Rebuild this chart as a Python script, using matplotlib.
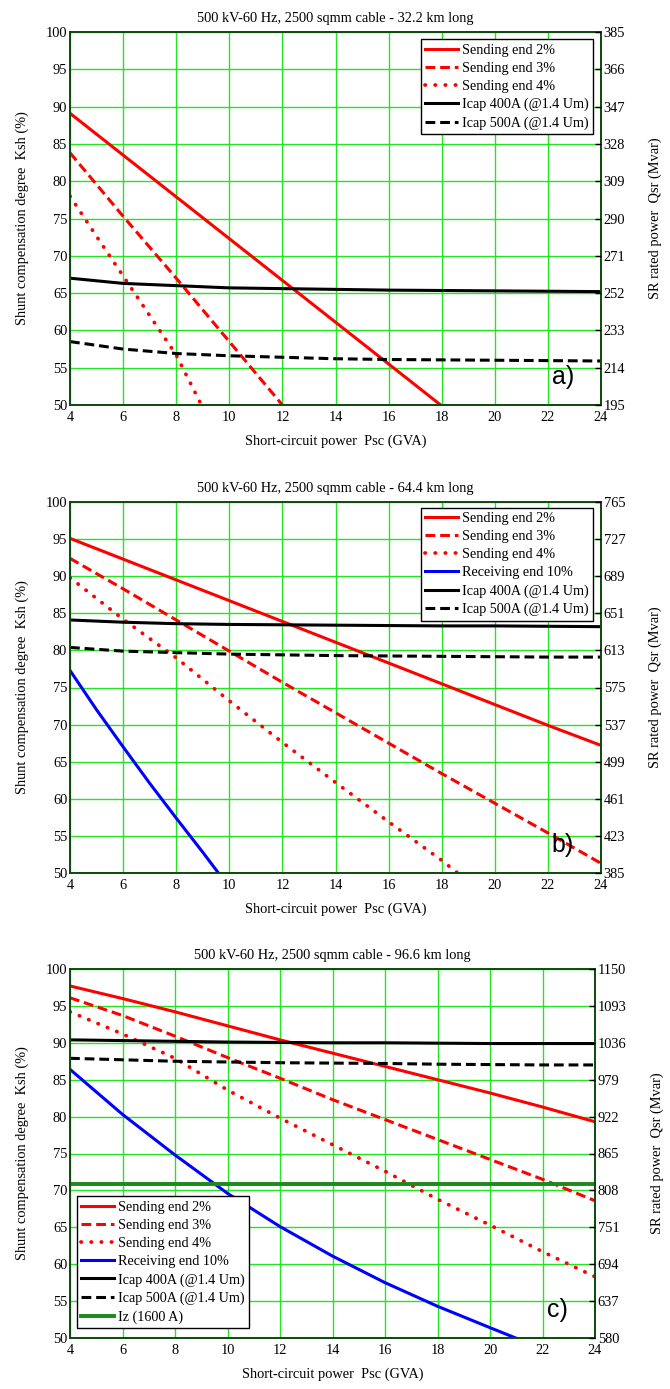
import numpy as np
import matplotlib
matplotlib.use("Agg")
import matplotlib.pyplot as plt

plt.rcParams['font.family'] = ['Liberation Serif', 'DejaVu Serif']
plt.rcParams['font.size'] = 10

# ---- data ----
x_even = [4, 6, 8, 10, 12, 14, 16, 18, 20, 22, 24]

# a) 32.2 km
a_s2_x = [4, 6, 8, 10, 12, 14, 16, 17.96]
a_s2 = [89.1, 83.5, 77.9, 72.3, 66.7, 61.1, 55.5, 50.0]
a_s3_x = [4, 6, 8, 10, 12]
a_s3 = [83.8, 75.3, 67.0, 58.5, 50.0]
a_s4_x = [4, 5, 6, 7, 8, 8.95]
a_s4 = [78.0, 72.6, 67.3, 62.0, 56.7, 50.0]
a_i400 = [67.0, 66.3, 66.0, 65.7, 65.6, 65.5, 65.4, 65.35, 65.3, 65.25, 65.2]
a_i500 = [58.5, 57.5, 56.9, 56.6, 56.4, 56.2, 56.1, 56.05, 56.0, 55.95, 55.9]

# b) 64.4 km
b_s2 = [95.1, 92.3, 89.5, 86.7, 83.9, 81.1, 78.3, 75.5, 72.7, 69.9, 67.2]
b_s3 = [92.4, 88.3, 84.1, 79.9, 75.7, 71.6, 67.5, 63.4, 59.4, 55.4, 51.3]
b_s4_x = [4, 6, 8, 10, 12, 14, 16, 18, 18.6]
b_s4 = [89.8, 84.2, 79.0, 73.2, 67.6, 62.2, 56.9, 51.7, 50.0]
b_r10_x = [4, 5, 6, 7, 8, 9, 9.59]
b_r10 = [77.3, 72.0, 67.0, 62.1, 57.4, 52.8, 50.0]
b_i400 = [84.1, 83.8, 83.6, 83.5, 83.45, 83.4, 83.35, 83.3, 83.3, 83.25, 83.2]
b_i500 = [80.4, 79.9, 79.7, 79.5, 79.4, 79.3, 79.25, 79.2, 79.15, 79.1, 79.1]

# c) 96.6 km
c_s2 = [97.7, 96.0, 94.2, 92.3, 90.4, 88.6, 86.8, 85.0, 83.2, 81.3, 79.3]
c_s3 = [96.1, 93.7, 90.9, 88.0, 85.2, 82.3, 79.6, 76.9, 74.2, 71.5, 68.6]
c_s4 = [94.2, 91.2, 87.9, 83.6, 79.8, 76.2, 72.6, 68.8, 65.3, 61.7, 58.3]
c_r10_x = [4, 6, 8, 10, 12, 14, 16, 18, 20, 20.98]
c_r10 = [86.4, 80.3, 74.8, 69.6, 65.1, 61.1, 57.5, 54.3, 51.4, 50.0]
c_i400 = [90.4, 90.3, 90.2, 90.1, 90.05, 90.0, 90.0, 89.95, 89.9, 89.9, 89.9]
c_i500 = [87.9, 87.7, 87.5, 87.4, 87.3, 87.25, 87.2, 87.1, 87.05, 87.0, 87.0]
c_iz_x = [4, 24]
c_iz = [70.9, 70.9]

titles = ["500 kV-60 Hz, 2500 sqmm cable - 32.2 km long",
          "500 kV-60 Hz, 2500 sqmm cable - 64.4 km long",
          "500 kV-60 Hz, 2500 sqmm cable - 96.6 km long"]
right_ticks = [[195, 214, 233, 252, 271, 290, 309, 328, 347, 366, 385],
               [385, 423, 461, 499, 537, 575, 613, 651, 689, 727, 765],
               [580, 637, 694, 751, 808, 865, 922, 979, 1036, 1093, 1150]]
tags = ["a)", "b)", "c)"]

RED = '#ff0000'
BLUE = '#0000ff'
GRID = '#22e622'
LW = 2.2
FS = 10.4
dash = (0, (3.2, 1.6))
dot = (0, (0.1, 2.6))

fig = plt.figure(figsize=(6.7, 13.89), dpi=100)
W, H = 670.0, 1389.0
# left, top, right, bottom in pixels
boxes = [(70, 32, 601, 405), (70, 502, 601, 873), (70, 969, 595, 1338)]


def setup(ax, k):
    l, t, r, b = boxes[k]
    ax.set_position([l / W, 1 - b / H, (r - l) / W, (b - t) / H])
    ax.set_xlim(4, 24)
    ax.set_ylim(50, 100)
    ax.set_xticks(range(4, 25, 2))
    ax.set_yticks(range(50, 101, 5))
    ax.grid(True, color=GRID, lw=1.0)
    ax.tick_params(direction='in', length=0, pad=2, labelsize=FS)
    ax.tick_params(axis='x', pad=4)
    for s in ax.spines.values():
        s.set_color('#0b4a0b')
        s.set_linewidth(1.4)
    ax.set_ylabel("Shunt compensation degree  Ksh (%)", fontsize=FS, labelpad=12)
    ax.set_xlabel("Short-circuit power  Psc (GVA)", fontsize=FS, labelpad=8)
    ax.set_title(titles[k], fontsize=FS, pad=7)
    ax2 = ax.twinx()
    ax2.set_position(ax.get_position())
    ax2.set_ylim(right_ticks[k][0], right_ticks[k][-1])
    ax2.set_yticks(right_ticks[k])
    ax2.tick_params(direction='in', length=4, width=1, pad=2, labelsize=FS)
    for s in ax2.spines.values():
        s.set_visible(False)
    ax2.set_ylabel("SR rated power  Qsr (Mvar)", fontsize=FS, labelpad=17)
    ax.text(0.928, 0.075, tags[k], transform=ax.transAxes, family='Liberation Sans',
            fontsize=18, ha='center', va='center', zorder=6)
    return ax2


leg_kw = dict(fancybox=False, edgecolor='black', framealpha=1, fontsize=10.2,
              handlelength=2.3, handletextpad=0.3, labelspacing=0.36, borderpad=0.3)


def dotted(ax, x, y, label):
    ax.plot(x, y, color=RED, lw=2.7, ls=dot, dash_capstyle='round', label=label)


# panel a
ax = fig.add_axes([0, 0, 1, 1])
setup(ax, 0)
ax.plot(a_s2_x, a_s2, color=RED, lw=LW, label="Sending end 2%")
ax.plot(a_s3_x, a_s3, color=RED, lw=LW, ls=dash, label="Sending end 3%")
dotted(ax, a_s4_x, a_s4, "Sending end 4%")
ax.plot(x_even, a_i400, color='black', lw=LW, label="Icap 400A (@1.4 Um)")
ax.plot(x_even, a_i500, color='black', lw=LW, ls=dash, label="Icap 500A (@1.4 Um)")
lg = ax.legend(loc='upper right', bbox_to_anchor=(0.985, 0.98), borderaxespad=0, **leg_kw)
lg.get_frame().set_linewidth(1.0)
lg.set_zorder(10)

# panel b
ax = fig.add_axes([0, 0, 1, 1])
setup(ax, 1)
ax.plot(x_even, b_s2, color=RED, lw=LW, label="Sending end 2%")
ax.plot(x_even, b_s3, color=RED, lw=LW, ls=dash, label="Sending end 3%")
dotted(ax, b_s4_x, b_s4, "Sending end 4%")
ax.plot(b_r10_x, b_r10, color=BLUE, lw=LW, label="Receiving end 10%")
ax.plot(x_even, b_i400, color='black', lw=LW, label="Icap 400A (@1.4 Um)")
ax.plot(x_even, b_i500, color='black', lw=LW, ls=dash, label="Icap 500A (@1.4 Um)")
lg = ax.legend(loc='upper right', bbox_to_anchor=(0.985, 0.985), borderaxespad=0, **leg_kw)
lg.get_frame().set_linewidth(1.0)
lg.set_zorder(10)

# panel c
ax = fig.add_axes([0, 0, 1, 1])
setup(ax, 2)
ax.plot(x_even, c_s2, color=RED, lw=LW, label="Sending end 2%")
ax.plot(x_even, c_s3, color=RED, lw=LW, ls=dash, label="Sending end 3%")
dotted(ax, x_even, c_s4, "Sending end 4%")
ax.plot(c_r10_x, c_r10, color=BLUE, lw=LW, label="Receiving end 10%")
ax.plot(x_even, c_i400, color='black', lw=LW, label="Icap 400A (@1.4 Um)")
ax.plot(x_even, c_i500, color='black', lw=LW, ls=dash, label="Icap 500A (@1.4 Um)")
ax.plot(c_iz_x, c_iz, color='#1a8a1a', lw=LW + 0.6, label="Iz (1600 A)")
lg = ax.legend(loc='lower left', bbox_to_anchor=(0.013, 0.027), borderaxespad=0, **leg_kw)
lg.get_frame().set_linewidth(1.0)
lg.set_zorder(10)

fig.savefig("out.png", dpi=100)
